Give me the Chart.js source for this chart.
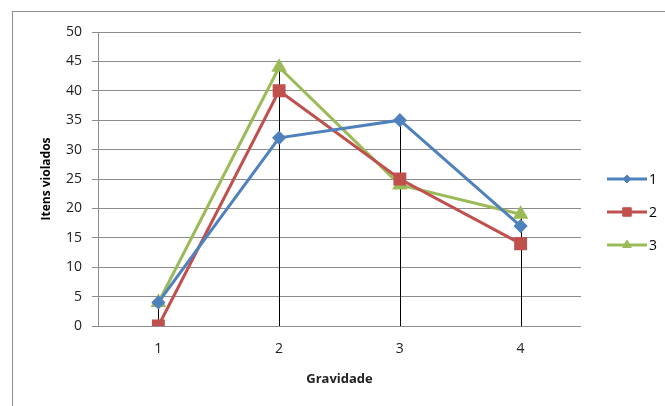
<!DOCTYPE html>
<html>
<head>
<meta charset="utf-8">
<script src="https://cdn.jsdelivr.net/npm/chart.js@4"></script>
<style>
  body { margin: 0; background: #fff; }
  #frame { position: absolute; left: 12px; top: 11px; width: 700px; height: 420px; border: 1px solid #8e8e8e; }
  #wrap { position: absolute; left: 0; top: 0; width: 665px; height: 406px; }
</style>
</head>
<body>
<div id="frame"></div>
<div id="wrap"><canvas id="myChart" width="665" height="406"></canvas></div>
<script>
const categories = ['1', '2', '3', '4'];
const serie1 = [4, 32, 35, 17];
const serie2 = [0, 40, 25, 14];
const serie3 = [4, 44, 24, 19];
const seriesNames = ['1', '2', '3'];

const FONT = "'Open Sans', 'Liberation Sans', sans-serif";

// black drop lines from the axis up to the highest point of each category
const dropLines = {
	id: 'dropLines',
	beforeDatasetsDraw(chart) {
		const ctx = chart.ctx;
		const yScale = chart.scales.y;
		ctx.save();
		ctx.strokeStyle = '#000';
		ctx.lineWidth = 1;
		categories.forEach((c, j) => {
			let top = null, x = null;
			chart.data.datasets.forEach((ds, i) => {
				const pt = chart.getDatasetMeta(i).data[j];
				if (top === null || pt.y < top) top = pt.y;
				x = pt.x;
			});
			ctx.beginPath();
			ctx.moveTo(Math.round(x) + 0.5, yScale.getPixelForValue(0));
			ctx.lineTo(Math.round(x) + 0.5, top);
			ctx.stroke();
		});
		ctx.restore();
	}
};

// excel-like legend: line with marker in the middle
const sideLegend = {
	id: 'sideLegend',
	afterDraw(chart) {
		const ctx = chart.ctx;
		const area = chart.chartArea;
		const x0 = area.right + 26;
		const midY = (area.top + area.bottom) / 2;
		ctx.save();
		chart.data.datasets.forEach((ds, i) => {
			const y = midY + i * 33;
			ctx.strokeStyle = ds.borderColor;
			ctx.fillStyle = ds.borderColor;
			ctx.lineWidth = 3;
			ctx.beginPath();
			ctx.moveTo(x0, y);
			ctx.lineTo(x0 + 40, y);
			ctx.stroke();
			ctx.lineWidth = 1;
			Chart.helpers.drawPoint(ctx, {
				pointStyle: ds.pointStyle,
				radius: ds.pointRadius - 1,
				rotation: 0,
				borderWidth: 1
			}, x0 + 20, y);
			ctx.fillStyle = '#000';
			ctx.font = '14px ' + FONT;
			ctx.textBaseline = 'middle';
			ctx.fillText(ds.label, x0 + 42, y + 1);
		});
		ctx.restore();
	}
};

function makeSet(label, data, color, style, r) {
	return {
		label: label,
		data: data,
		borderColor: color,
		backgroundColor: color,
		pointBackgroundColor: color,
		pointBorderColor: color,
		borderWidth: 3,
		pointStyle: style,
		pointRadius: r,
		pointHoverRadius: r,
		tension: 0
	};
}

const ctx = document.getElementById('myChart');
const myChart = new Chart(ctx, {
	type: 'line',
	data: {
		labels: categories,
		datasets: [
			makeSet(seriesNames[0], serie1, '#4F81BD', 'rectRot', 5),
			makeSet(seriesNames[1], serie2, '#C0504D', 'rect', 7),
			makeSet(seriesNames[2], serie3, '#9BBB59', 'triangle', 6)
		]
	},
	options: {
		responsive: false,
		animation: false,
		layout: { padding: { left: 0, top: 32, right: 84, bottom: 0 } },
		plugins: {
			legend: { display: false },
			tooltip: { enabled: false }
		},
		scales: {
			x: {
				offset: true,
				grid: { display: false, drawTicks: false },
				border: { display: false },
				ticks: { color: '#222', font: { family: FONT, size: 14 }, padding: 15 },
				title: {
					display: true, text: 'Gravidade', color: '#222',
					font: { family: FONT, size: 13, weight: 'bold' },
					padding: { top: 0, bottom: 19 }
				},
				afterFit(scale) { scale.height = 80; }
			},
			y: {
				min: 0,
				max: 50,
				grid: { color: '#8c8c8c', lineWidth: 1, tickLength: 6 },
				border: { color: '#8c8c8c' },
				ticks: { stepSize: 5, color: '#222', font: { family: FONT, size: 14 }, padding: 10 },
				title: {
					display: true, text: 'Itens violados', color: '#000',
					font: { family: FONT, size: 12, weight: 'bold' },
					padding: { top: 39, bottom: 0 }
				},
				afterFit(scale) { scale.width = 98; }
			}
		}
	},
	plugins: [dropLines, sideLegend]
});
</script>
</body>
</html>
